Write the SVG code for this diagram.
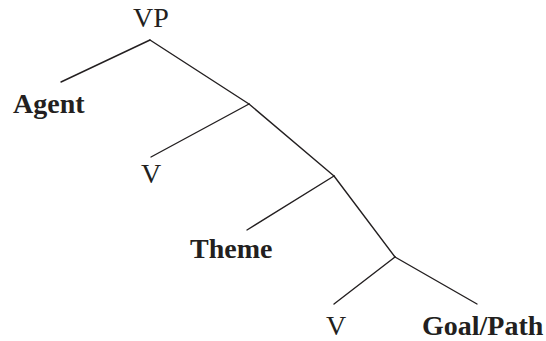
<svg xmlns="http://www.w3.org/2000/svg" width="546" height="341" viewBox="0 0 546 341">
  <style>
    .lbl { font-family: "Liberation Serif", "Times New Roman", serif; font-size: 28px; fill: #231f20; }
    .b { font-weight: bold; }
    .edge { stroke: #231f20; stroke-width: 1.4; fill: none; stroke-linecap: round; }
  </style>
  <rect width="546" height="341" fill="#ffffff"/>
  <g id="connectors">
    <line class="edge" x1="150" y1="40" x2="61" y2="82"/>
    <line class="edge" x1="150" y1="40" x2="249" y2="104"/>
    <line class="edge" x1="249" y1="104" x2="151" y2="157"/>
    <line class="edge" x1="249" y1="104" x2="334" y2="176"/>
    <line class="edge" x1="334" y1="176" x2="247" y2="230"/>
    <line class="edge" x1="334" y1="176" x2="395" y2="257"/>
    <line class="edge" x1="395" y1="257" x2="334" y2="304"/>
    <line class="edge" x1="395" y1="257" x2="477" y2="304"/>
  </g>
  <g id="vp"><text class="lbl" x="151" y="27" text-anchor="middle">VP</text></g>
  <g id="agent"><text class="lbl b" x="13" y="113">Agent</text></g>
  <g id="v1"><text class="lbl" x="151" y="183" text-anchor="middle">V</text></g>
  <g id="theme"><text class="lbl b" x="190" y="258">Theme</text></g>
  <g id="v2"><text class="lbl" x="336" y="335" text-anchor="middle">V</text></g>
  <g id="goalpath"><text class="lbl b" x="422" y="335">Goal/Path</text></g>
</svg>
